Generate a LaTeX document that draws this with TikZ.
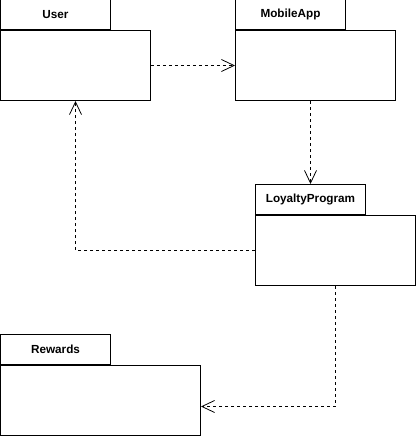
\documentclass[tikz,border=0pt]{standalone}
\usepackage{fontspec}
\setmainfont{Liberation Sans}
\usetikzlibrary{
arrows.meta,
calc,
positioning
}

\begin{document}
\begin{tikzpicture}[x=0.75pt, y=-0.75pt,
	every node/.style={font=\fontsize{8.8}{10}\selectfont\bfseries},
	body/.style={draw, line width=0.75pt, anchor=north west, minimum height=52.5pt, inner sep=0pt},
	tab/.style={draw, line width=0.75pt, anchor=south west, minimum width=82.5pt, minimum height=22.5pt, inner sep=0pt},
	dep/.style={line width=0.6pt, dash pattern=on 2.25pt off 2.25pt, -{Straight Barb[length=9.5pt,width=9pt,line width=0.6pt]}}]
	\useasboundingbox (0,0) rectangle (416,437);
	% package bodies
	\node[body, minimum width=112.5pt] (user)    at (0,30)    {};
	\node[body, minimum width=120pt]   (mobile)  at (235,30)  {};
	\node[body, minimum width=120pt]   (loyalty) at (255,215) {};
	\node[body, minimum width=150pt]   (rewards) at (0,365)   {};
	% tabs
	\node[tab] (usertab)    at (user.north west)    {User};
	\node[tab] (mobiletab)  at (mobile.north west)  {MobileApp};
	\node[tab] (loyaltytab) at (loyalty.north west) {LoyaltyProgram};
	\node[tab] (rewardstab) at (rewards.north west) {Rewards};
	
	\draw[dep] (user) -- (mobile);
	\draw[dep] (loyaltytab.north |- mobile.south) -- (loyaltytab.north);
	\draw[dep] (loyalty.west) -| (user.south);
	\draw[dep] (loyalty.south) |- ([yshift=-4.5pt]rewards.east);
\end{tikzpicture}
\end{document}
